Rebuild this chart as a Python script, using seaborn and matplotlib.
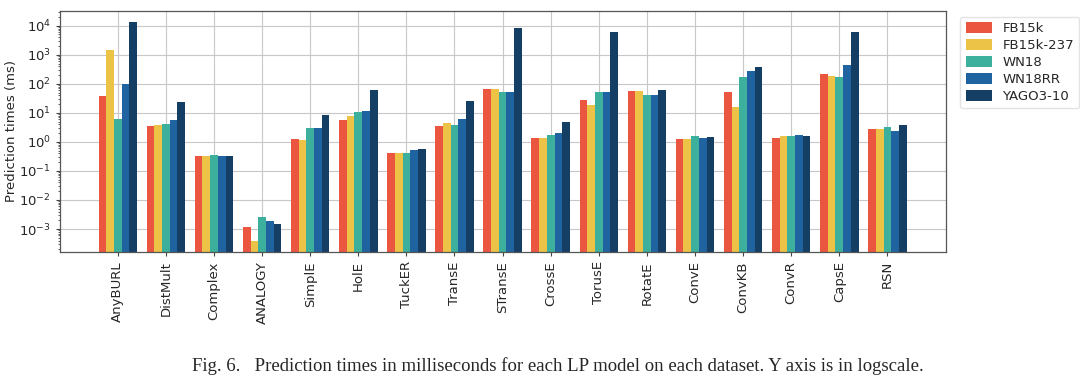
import matplotlib
matplotlib.use('Agg')
import matplotlib.pyplot as plt
import seaborn as sns
import pandas as pd

models = ['AnyBURL', 'DistMult', 'Complex', 'ANALOGY', 'SimplE', 'HolE', 'TuckER',
          'TransE', 'STransE', 'CrossE', 'TorusE', 'RotatE', 'ConvE', 'ConvKB',
          'ConvR', 'CapsE', 'RSN']
datasets = ['FB15k', 'FB15k-237', 'WN18', 'WN18RR', 'YAGO3-10']

# prediction times (ms)
fb15k = [37, 3.5, 0.34, 0.0012, 1.24, 5.6, 0.40, 3.4, 66, 1.34, 27, 58, 1.27, 52, 1.37, 218, 2.8]
fb15k_237 = [1500, 3.8, 0.34, 0.0004, 1.2, 7.9, 0.40, 4.4, 66, 1.4, 18, 58, 1.3, 16, 1.6, 190, 2.7]
wn18 = [6.2, 4.3, 0.35, 0.0025, 2.96, 11, 0.43, 3.75, 54, 1.7, 51, 40, 1.6, 177, 1.6, 177, 3.3]
wn18rr = [100, 5.9, 0.34, 0.0019, 2.96, 11.3, 0.53, 6.0, 54, 2.1, 51, 40, 1.37, 275, 1.7, 456, 2.4]
yago3_10 = [14000, 23, 0.34, 0.0015, 8.3, 63, 0.57, 25, 8100, 4.9, 5900, 60, 1.45, 390, 1.6, 6300, 3.8]

colors = ['#EA5640', '#ECC346', '#3DB09D', '#1F64A0', '#143E63']

series = [fb15k, fb15k_237, wn18, wn18rr, yago3_10]
rows = []
for name, vals in zip(datasets, series):
    for m, v in zip(models, vals):
        rows.append({'model': m, 'dataset': name, 'time': v})
df = pd.DataFrame(rows)

sns.set_style('white')
plt.rcParams['font.family'] = ['DejaVu Sans']

fig = plt.figure(figsize=(10.8, 3.82), dpi=100)
ax = fig.add_axes([0.0556, 0.340, 0.8204, 0.632])

sns.barplot(data=df, x='model', y='time', hue='dataset', order=models,
            hue_order=datasets, palette=colors, width=0.8, saturation=1,
            linewidth=0, ax=ax)
ax.set_yscale('log')

ax.set_ylim(1.6e-4, 3.3e4)
ax.set_xlim(-1.2, len(models) - 1 + 1.22)
ax.set_xlabel('')
ax.set_ylabel('Prediction times (ms)', fontsize=9.5, labelpad=1)
ax.tick_params(axis='x', labelrotation=90, labelsize=9.5, length=3, color='#444444', bottom=True)
ax.tick_params(axis='y', which='major', labelsize=9.5, length=3, color='#444444', left=True)
ax.tick_params(axis='y', which='minor', length=1.5, color='#444444', left=True)
ax.grid(True, which='major', color='#c8c8c8', linewidth=0.8)
ax.set_axisbelow(True)
for s in ax.spines.values():
    s.set_color('#555555')
    s.set_linewidth(0.9)

ax.legend(loc='upper left', bbox_to_anchor=(1.016, 0.975), borderaxespad=0,
          fontsize=9.5, frameon=True, edgecolor='#dddddd', handlelength=2.0,
          handleheight=0.9, labelspacing=0.3)

fig.text(0.517, 0.042,
         'Fig. 6.   Prediction times in milliseconds for each LP model on each dataset. Y axis is in logscale.',
         ha='center', va='center', fontsize=13.5, family=['Liberation Serif'])

fig.savefig('out.png', dpi=100)
